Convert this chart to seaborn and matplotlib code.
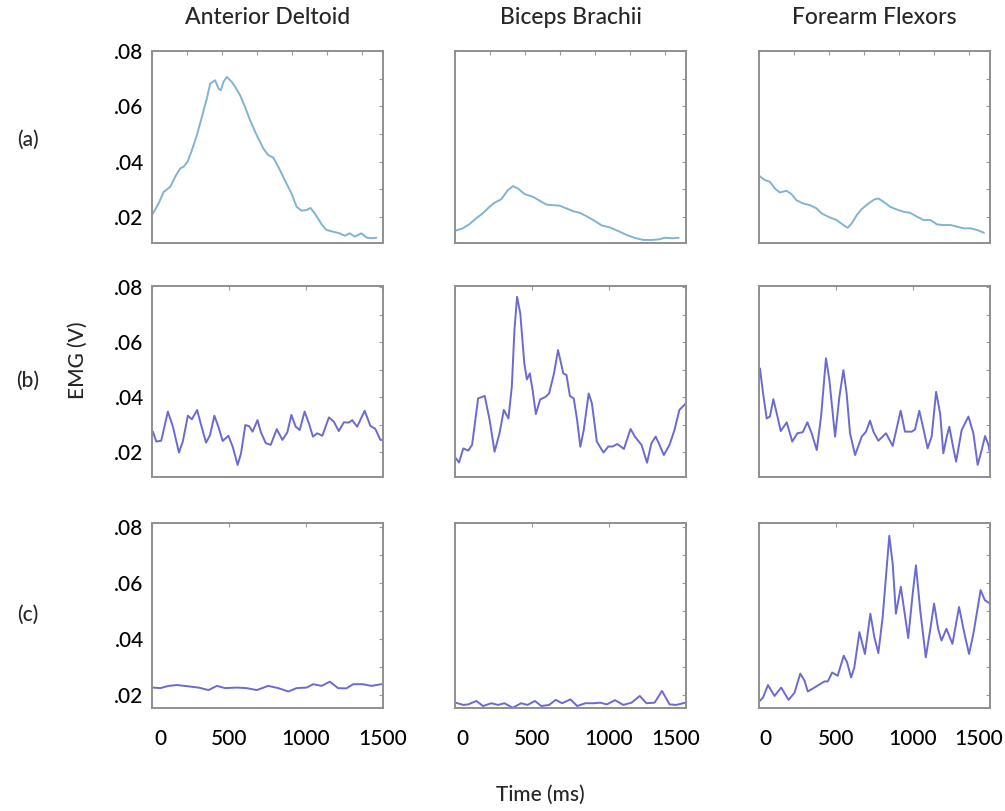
import numpy as np
import pandas as pd
import matplotlib
matplotlib.use('Agg')
import matplotlib.pyplot as plt
import matplotlib.transforms as mtransforms
import seaborn as sns

muscles = ['Anterior Deltoid', 'Biceps Brachii', 'Forearm Flexors']
conditions = ['(a)', '(b)', '(c)']

# ---- condition (a) ----
a_delt_t = [0, 43, 76, 97, 119, 151, 183, 205, 231, 259, 291, 324, 356, 378, 410, 432, 447, 464, 486, 518,
            540, 572, 604, 637, 680, 723, 755, 788, 820, 863, 906, 939, 971, 1004, 1029, 1057, 1101, 1133,
            1176, 1219, 1252, 1284, 1316, 1360, 1392, 1424, 1457]
a_delt_v = [0.0206, 0.0248, 0.0290, 0.0299, 0.0309, 0.0345, 0.0375, 0.0381, 0.0399, 0.0441, 0.0495, 0.0561,
            0.0628, 0.0682, 0.0694, 0.0664, 0.0658, 0.0688, 0.0706, 0.0688, 0.0670, 0.0640, 0.0598, 0.0549,
            0.0495, 0.0447, 0.0423, 0.0414, 0.0381, 0.0332, 0.0284, 0.0236, 0.0222, 0.0224, 0.0232, 0.0212,
            0.0173, 0.0152, 0.0146, 0.0140, 0.0131, 0.0140, 0.0128, 0.0140, 0.0125, 0.0122, 0.0124]

a_bic_t = [0, 50, 93, 137, 180, 224, 257, 300, 343, 376, 409, 452, 507, 550, 594, 637, 680, 724, 767, 811,
           854, 898, 952, 1007, 1061, 1115, 1170, 1224, 1278, 1322, 1365, 1409, 1452]
a_bic_v = [0.0149, 0.0158, 0.0173, 0.0194, 0.0212, 0.0236, 0.0251, 0.0263, 0.0296, 0.0311, 0.0302, 0.0282,
           0.0272, 0.0258, 0.0244, 0.0242, 0.0240, 0.0230, 0.0220, 0.0214, 0.0202, 0.0188, 0.0169, 0.0161,
           0.0148, 0.0134, 0.0123, 0.0116, 0.0116, 0.0118, 0.0124, 0.0122, 0.0124]

a_flex_t = [4, 37, 70, 102, 135, 178, 211, 243, 287, 330, 374, 407, 450, 504, 548, 576, 602, 635, 667, 711,
            750, 776, 809, 852, 896, 939, 983, 1026, 1070, 1113, 1157, 1200, 1244, 1287, 1330, 1374, 1417, 1461]
a_flex_v = [0.0347, 0.0333, 0.0327, 0.0303, 0.0288, 0.0294, 0.0282, 0.0260, 0.0248, 0.0242, 0.0230, 0.0212,
            0.0200, 0.0188, 0.0170, 0.0160, 0.0176, 0.0206, 0.0228, 0.0248, 0.0263, 0.0266, 0.0254, 0.0236,
            0.0226, 0.0218, 0.0214, 0.0200, 0.0188, 0.0188, 0.0172, 0.0170, 0.0170, 0.0164, 0.0158, 0.0158,
            0.0152, 0.0142]

# ---- condition (b) ----
b_delt_t = [6, 28, 60, 103, 136, 175, 200, 233, 259, 293, 319, 351, 377, 405, 431, 459, 496, 524, 556, 578,
            606, 631, 653, 685, 707, 739, 771, 810, 847, 879, 905, 933, 959, 991, 1019, 1045, 1073, 1106,
            1149, 1181, 1213, 1246, 1278, 1300, 1332, 1381, 1418, 1450, 1483, 1500]
b_delt_v = [0.0274, 0.0238, 0.0241, 0.0347, 0.0292, 0.0198, 0.0238, 0.0332, 0.0319, 0.0353, 0.0298, 0.0234,
            0.0262, 0.0332, 0.0292, 0.0240, 0.0259, 0.0219, 0.0153, 0.0195, 0.0298, 0.0294, 0.0274, 0.0316,
            0.0272, 0.0232, 0.0226, 0.0283, 0.0244, 0.0272, 0.0335, 0.0292, 0.0280, 0.0347, 0.0304, 0.0256,
            0.0268, 0.0259, 0.0326, 0.0310, 0.0276, 0.0308, 0.0307, 0.0316, 0.0292, 0.0350, 0.0295, 0.0284,
            0.0244, 0.0244]

b_bic_t = [6, 26, 54, 86, 111, 150, 193, 225, 257, 289, 317, 347, 369, 386, 403, 424, 450, 467, 486, 504,
           525, 553, 589, 611, 643, 669, 686, 703, 724, 746, 771, 793, 814, 836, 868, 889, 921, 964, 996,
           1024, 1054, 1097, 1140, 1168, 1211, 1247, 1275, 1303, 1324, 1356, 1393, 1425, 1457, 1489, 1500]
b_bic_v = [0.0177, 0.0162, 0.0213, 0.0205, 0.0226, 0.0395, 0.0404, 0.0316, 0.0201, 0.0268, 0.0353, 0.0322,
           0.0438, 0.0644, 0.0765, 0.0704, 0.0522, 0.0464, 0.0486, 0.0425, 0.0338, 0.0391, 0.0401, 0.0413,
           0.0486, 0.0571, 0.0529, 0.0486, 0.0480, 0.0404, 0.0395, 0.0316, 0.0219, 0.0280, 0.0413, 0.0377,
           0.0238, 0.0198, 0.0220, 0.0220, 0.0229, 0.0211, 0.0284, 0.0256, 0.0226, 0.0161, 0.0231, 0.0256,
           0.0231, 0.0189, 0.0226, 0.0280, 0.0353, 0.0371, 0.0377]

b_flex_t = [6, 28, 50, 71, 93, 115, 141, 180, 216, 249, 284, 314, 342, 375, 403, 435, 457, 494, 522, 548,
            569, 591, 624, 667, 695, 721, 743, 775, 825, 868, 894, 920, 948, 992, 1013, 1041, 1067, 1095,
            1121, 1150, 1176, 1197, 1219, 1236, 1256, 1280, 1316, 1360, 1392, 1420, 1446, 1468, 1490, 1500]
b_flex_v = [0.0504, 0.0407, 0.0322, 0.0329, 0.0392, 0.0341, 0.0276, 0.0308, 0.0238, 0.0268, 0.0272, 0.0308,
            0.0268, 0.0207, 0.0329, 0.0541, 0.0462, 0.0256, 0.0401, 0.0498, 0.0413, 0.0268, 0.0189, 0.0256,
            0.0274, 0.0314, 0.0274, 0.0241, 0.0268, 0.0222, 0.0286, 0.0350, 0.0274, 0.0274, 0.0282, 0.0350,
            0.0286, 0.0213, 0.0256, 0.0419, 0.0341, 0.0195, 0.0256, 0.0292, 0.0231, 0.0165, 0.0280, 0.0329,
            0.0268, 0.0153, 0.0207, 0.0258, 0.0226, 0.0195]

# ---- condition (c) ----
c_delt_t = [6, 54, 108, 162, 227, 302, 367, 421, 475, 550, 615, 680, 755, 820, 885, 939, 1004, 1047, 1101,
            1155, 1208, 1262, 1306, 1370, 1424, 1489]
c_delt_v = [0.0226, 0.0224, 0.0232, 0.0235, 0.0231, 0.0226, 0.0217, 0.0232, 0.0224, 0.0226, 0.0224, 0.0217,
            0.0232, 0.0224, 0.0212, 0.0224, 0.0226, 0.0238, 0.0232, 0.0247, 0.0224, 0.0223, 0.0238, 0.0238,
            0.0232, 0.0238]

c_bic_t = [4, 54, 86, 139, 182, 236, 279, 321, 375, 429, 471, 519, 561, 611, 654, 696, 750, 793, 846, 900,
           943, 986, 1039, 1093, 1146, 1200, 1243, 1296, 1344, 1393, 1436, 1496]
c_bic_v = [0.0172, 0.0164, 0.0166, 0.0178, 0.0160, 0.0170, 0.0164, 0.0170, 0.0154, 0.0170, 0.0164, 0.0178,
           0.0160, 0.0164, 0.0182, 0.0170, 0.0184, 0.0160, 0.0170, 0.0170, 0.0172, 0.0166, 0.0181, 0.0164,
           0.0172, 0.0196, 0.0170, 0.0172, 0.0214, 0.0166, 0.0164, 0.0172]

c_flex_t = [4, 26, 58, 101, 144, 192, 231, 268, 296, 317, 360, 425, 447, 475, 511, 550, 572, 598, 619, 652,
            688, 723, 749, 775, 803, 846, 868, 889, 921, 943, 969, 997, 1019, 1047, 1083, 1111, 1137, 1163,
            1185, 1217, 1256, 1299, 1332, 1364, 1392, 1439, 1467, 1500]
c_flex_v = [0.0178, 0.0190, 0.0235, 0.0196, 0.0226, 0.0182, 0.0208, 0.0276, 0.0250, 0.0212, 0.0226, 0.0248,
            0.0248, 0.0280, 0.0268, 0.0340, 0.0316, 0.0262, 0.0298, 0.0424, 0.0346, 0.0490, 0.0406, 0.0349,
            0.0478, 0.0768, 0.0669, 0.0490, 0.0586, 0.0502, 0.0403, 0.0556, 0.0663, 0.0502, 0.0334, 0.0430,
            0.0526, 0.0436, 0.0394, 0.0436, 0.0382, 0.0514, 0.0424, 0.0346, 0.0418, 0.0574, 0.0538, 0.0526]

series = [
    [(a_delt_t, a_delt_v), (a_bic_t, a_bic_v), (a_flex_t, a_flex_v)],
    [(b_delt_t, b_delt_v), (b_bic_t, b_bic_v), (b_flex_t, b_flex_v)],
    [(c_delt_t, c_delt_v), (c_bic_t, c_bic_v), (c_flex_t, c_flex_v)],
]
row_colors = ['#80b4d2', '#6a6ad2', '#6a6ad2']

sns.set_style('white')
plt.rcParams['font.family'] = ['Lato', 'DejaVu Sans']

W, H = 1005, 811
fig = plt.figure(figsize=(W / 100, H / 100), dpi=100)

col_left = [152, 455, 759]
col_width = 231
row_box = [(51, 243), (286, 477), (523, 708)]
row_ylim = [(0.0105, 0.08), (0.0109, 0.0804), (0.0153, 0.0814)]
label_y = [140, 381, 615]
# horizontal nudges (px) for the "0" and "1500" labels in the bottom row
first_shift = [8, 7, 6]
last_shift = [0, -10, -11]

for r in range(3):
    top, bot = row_box[r]
    for c in range(3):
        ax = fig.add_axes([col_left[c] / W, 1 - bot / H, col_width / W, (bot - top) / H])
        t, v = series[r][c]
        df = pd.DataFrame({'Time (ms)': t, 'EMG (V)': v})
        sns.lineplot(data=df, x='Time (ms)', y='EMG (V)', ax=ax, color=row_colors[r],
                     lw=1.4, estimator=None, sort=False, solid_joinstyle='round')
        ax.set_xlim(0, 1500)
        ax.set_ylim(*row_ylim[r])
        ax.set_xlabel('')
        ax.set_ylabel('')
        for sp in ax.spines.values():
            sp.set_color('#8f8f8f')
            sp.set_linewidth(1.4)
        ax.set_yticks([0.02, 0.04, 0.06, 0.08])
        ax.set_yticks([0.03, 0.05, 0.07], minor=True)
        ax.set_yticklabels(['.02', '.04', '.06', '.08'])
        if r == 0:
            ax.set_xticks([0, 227, 454, 681, 908, 1135, 1362])
        else:
            ax.set_xticks([0, 500, 1000, 1500])
        ax.set_xticklabels(['0', '500', '1000', '1500'] if r == 2 else [''] * len(ax.get_xticks()))
        ax.tick_params(which='both', direction='in', length=3, width=0.8, color='#9a9a9a',
                       top=True, right=True, labelsize=15, labelcolor='black', pad=6)
        ax.tick_params(axis='x', pad=15)
        for lab in ax.get_yticklabels() + ax.get_xticklabels():
            lab.set_fontweight('medium')
        if c != 0:
            ax.tick_params(labelleft=False)
        if r != 2:
            ax.tick_params(labelbottom=False)
        else:
            xl = ax.get_xticklabels()
            xl[0].set_transform(xl[0].get_transform() +
                                mtransforms.ScaledTranslation(first_shift[c] / 100, 0, fig.dpi_scale_trans))
            xl[-1].set_transform(xl[-1].get_transform() +
                                 mtransforms.ScaledTranslation(last_shift[c] / 100, 0, fig.dpi_scale_trans))

for c, name in enumerate(muscles):
    fig.text((col_left[c] + col_width / 2) / W, 1 - 18 / H, name, ha='center', va='center',
             fontsize=16.5, fontweight='medium')

for r, lab in enumerate(conditions):
    fig.text(28 / W, 1 - label_y[r] / H, lab, ha='center', va='center', fontsize=15, fontweight='medium')

fig.text(78 / W, 1 - 360 / H, 'EMG (V)', rotation=90, ha='center', va='center', fontsize=15,
         fontweight='medium')
fig.text(540 / W, 1 - 795 / H, 'Time (ms)', ha='center', va='center', fontsize=15, fontweight='medium')

fig.savefig('out.png', dpi=100)
